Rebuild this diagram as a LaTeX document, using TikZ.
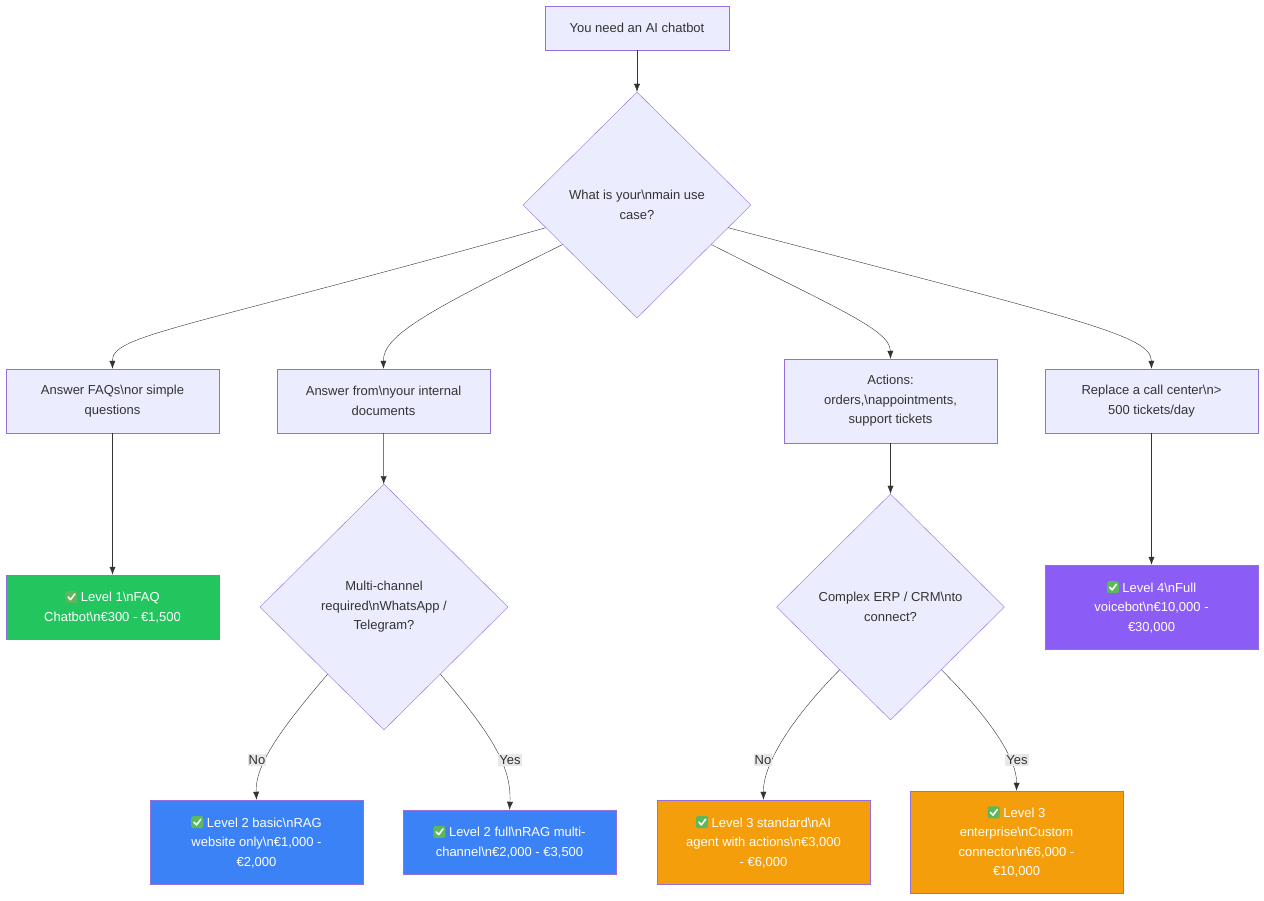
\documentclass[tikz,border=0pt]{standalone}
\usepackage{fontspec}
\setmainfont{Liberation Sans}
\usetikzlibrary{shapes.geometric,arrows.meta}
\definecolor{nfill}{HTML}{ECECFF}
\definecolor{nbord}{HTML}{9370DB}
\definecolor{ntext}{HTML}{333333}
\definecolor{cgreen}{HTML}{22C55E}
\definecolor{cblue}{HTML}{3B82F6}
\definecolor{corange}{HTML}{F59E0B}
\definecolor{cpurple}{HTML}{8B5CF6}
\definecolor{emo}{HTML}{5BB85B}
\newcommand\bn{\textbackslash n}
\newcommand\chk{\tikz[baseline=-1pt,x=1pt,y=1pt]{\fill[emo,rounded corners=2pt](-1,-2) rectangle (11,10);\draw[white,line width=1.6pt,line cap=round,line join=round](1.8,4)--(4.3,1.3)--(8.6,7);}}
\begin{document}
\begin{tikzpicture}[x=1pt,y=-1pt,
  every node/.style={font=\fontsize{13}{19.5}\selectfont},
  box/.style={draw=nbord,fill=nfill,text=ntext,minimum width=213pt,align=center,inner sep=0pt},
  res/.style={draw=nbord,text=white,minimum width=213pt,align=center,inner sep=0pt},
  dia/.style={diamond,draw=nbord,fill=nfill,text=ntext,align=center,inner sep=0pt},
  lbl/.style={fill=black!9,text=ntext,inner sep=1pt},
  arr/.style={draw=ntext,-{Latex[length=8pt,width=6pt]}}]
\useasboundingbox (0,0) rectangle (1264,901);
\fill[white] (0,0) rectangle (1264,901);
\node[box,minimum width=184pt,minimum height=44pt] (s) at (637,28) {You need an AI chatbot};
\node[dia,minimum width=228pt,minimum height=226pt] (q1) at (637,205) {What is your\bn main use\\case?};
\node[box,minimum height=64pt] (a) at (112.5,401) {Answer FAQs\bn or simple\\questions};
\node[box,minimum height=64pt] (b) at (383.5,401) {Answer from\bn your internal\\documents};
\node[box,minimum height=84pt] (c) at (890.5,401) {Actions:\\orders,\bn appointments,\\support tickets};
\node[box,minimum height=64pt] (d) at (1151.5,401) {Replace a call center\bn >\\500 tickets/day};
\node[res,fill=cgreen,minimum height=64pt] (l1) at (112.5,607) {\chk\ Level 1\bn FAQ\\Chatbot\bn €300 - €1,500};
\node[dia,minimum width=248pt,minimum height=246pt] (q2) at (384,607) {Multi-channel\\required\bn WhatsApp /\\Telegram?};
\node[dia,minimum width=228pt,minimum height=226pt] (q3) at (890.5,607) {Complex ERP / CRM\bn to\\connect?};
\node[res,fill=cpurple,minimum height=84pt] (l4) at (1151.5,607) {\chk\ Level 4\bn Full\\voicebot\bn €10,000 -\\€30,000};
\node[res,fill=cblue,minimum height=84pt] (l2b) at (256.5,842) {\chk\ Level 2 basic\bn RAG\\website only\bn €1,000 -\\€2,000};
\node[res,fill=cblue,minimum height=64pt] (l2f) at (509.5,842) {\chk\ Level 2 full\bn RAG multi-\\channel\bn €2,000 - €3,500};
\node[res,fill=corange,minimum height=84pt] (l3s) at (763.5,842) {\chk\ Level 3 standard\bn AI\\agent with actions\bn €3,000\\- €6,000};
\node[res,fill=corange,minimum height=102pt] (l3e) at (1016.5,842) {\chk\ Level 3\\enterprise\bn Custom\\connector\bn €6,000 -\\€10,000};
\draw[arr] (s) -- (q1);
\draw[arr] (q1.194) .. controls (180,330) and (112,335) .. (a.north);
\draw[arr] (q1.208) .. controls (430,310) and (383,335) .. (b.north);
\draw[arr] (q1.332) .. controls (840,310) and (890,330) .. (c.north);
\draw[arr] (q1.346) .. controls (1080,320) and (1151,335) .. (d.north);
\draw[arr] (a) -- (l1);
\draw[arr] (b) -- (q2);
\draw[arr] (c) -- (q3);
\draw[arr] (d) -- (l4);
\draw[arr] (q2.230) .. controls (280,730) and (255,765) .. (l2b.north);
\draw[arr] (q2.310) .. controls (488,730) and (512,765) .. (l2f.north);
\draw[arr] (q3.231) .. controls (790,720) and (763,765) .. (l3s.north);
\draw[arr] (q3.309) .. controls (992,720) and (1017,760) .. (l3e.north);
\node[lbl] (n1) at (257,760) {No};
\node[lbl] (y1) at (510,760) {Yes};
\node[lbl] (n2) at (763,760) {No};
\node[lbl] (y2) at (1017,760) {Yes};
\end{tikzpicture}
\end{document}
